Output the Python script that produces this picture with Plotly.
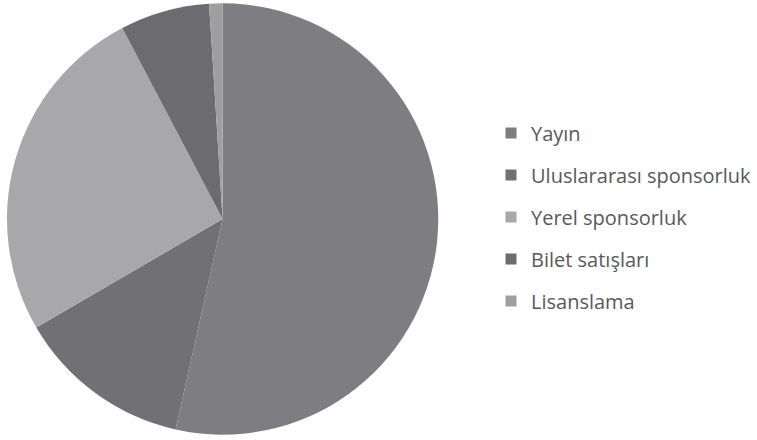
import plotly.graph_objects as go

# Data (percent shares, clockwise from 12 o'clock)
categories = ["Yayın", "Uluslararası sponsorluk", "Yerel sponsorluk", "Bilet satışları", "Lisanslama"]
values = [53.5, 13.1, 25.7, 6.7, 1.0]
colors = ["#7e7e82", "#717175", "#a8a8ab", "#6c6c70", "#9f9fa2"]

W, H = 757, 440

fig = go.Figure()

fig.add_trace(go.Pie(
    labels=categories,
    values=values,
    sort=False,
    direction="clockwise",
    rotation=0,
    marker=dict(colors=colors, line=dict(width=0)),
    textinfo="none",
    hoverinfo="label+percent",
    showlegend=False,
    domain=dict(x=[7 / W, 440 / W], y=[1 - 435 / H, 1 - 3 / H]),
))

# Legend entries (one per category) so that spacing can mirror the reference
for name, col in zip(categories, colors):
    fig.add_trace(go.Scatter(
        x=[None], y=[None], mode="markers", name=name,
        marker=dict(symbol="square", size=11, color=col),
        legendgroup=name, showlegend=True, hoverinfo="skip",
    ))

fig.update_layout(
    width=W, height=H,
    margin=dict(l=0, r=0, t=0, b=0),
    paper_bgcolor="white",
    plot_bgcolor="white",
    xaxis=dict(visible=False),
    yaxis=dict(visible=False),
    legend=dict(
        x=493 / W, y=1 - 217 / H, xanchor="left", yanchor="middle",
        font=dict(family="Open Sans", size=20, color="#58585b"),
        tracegroupgap=13,
        bgcolor="rgba(0,0,0,0)",
    ),
)

fig.write_html(
    "out.html",
    config={"displayModeBar": False},
    post_script="document.body.style.margin='0px';",
)
